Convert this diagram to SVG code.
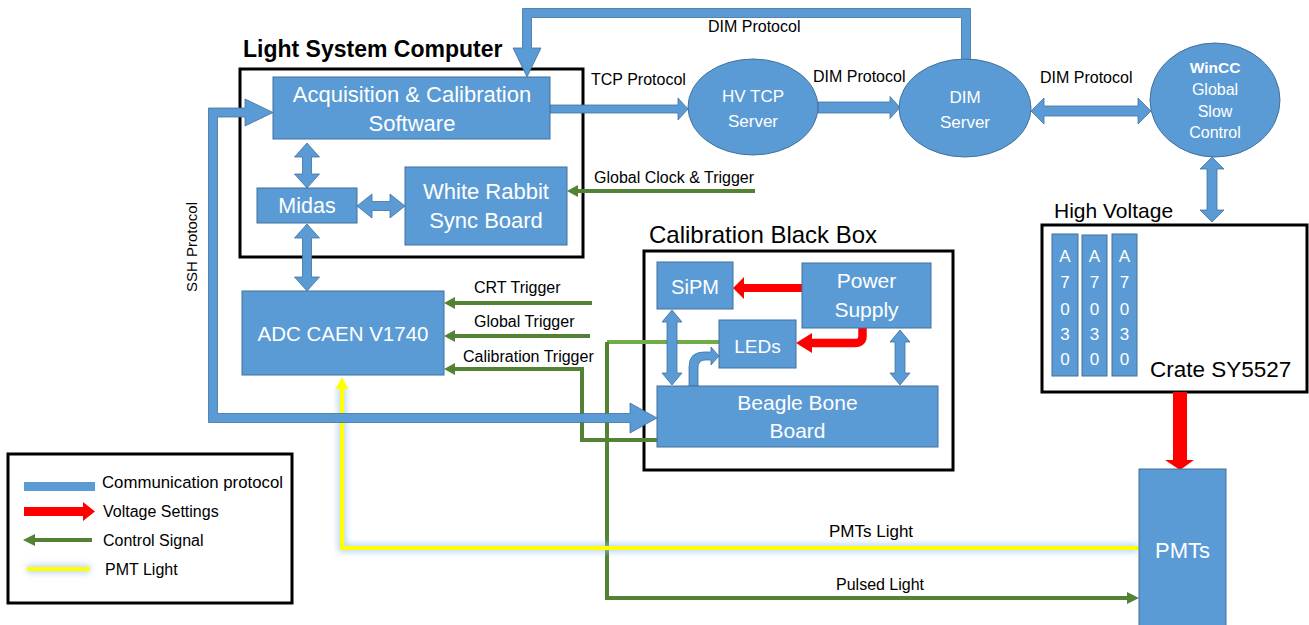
<svg xmlns="http://www.w3.org/2000/svg" width="1309" height="625" viewBox="0 0 1309 625">
<defs>
<style>
text{font-family:"Liberation Sans",Arial,sans-serif;}
.node{fill:#5B9BD5;stroke:#41719C;stroke-width:1;}
.blk{fill:#5B9BD5;stroke:#41719C;stroke-width:0.8;}
.frame{fill:none;stroke:#000;stroke-width:3;}
.wt{fill:#fff;text-anchor:middle;}
.lbl{fill:#000;font-size:16px;}
.g{fill:none;stroke:#548235;stroke-width:4;}
.gl{fill:none;stroke:#70AD47;stroke-width:4;}
.gh{fill:#548235;}
.red{fill:#FF0000;}
.glow{fill:none;stroke:#9DC3E6;stroke-opacity:0.7;stroke-width:8;filter:url(#blur);}
.yel{fill:none;stroke:#FFFF00;stroke-width:4;}
</style>
<filter id="blur" filterUnits="userSpaceOnUse" x="0" y="0" width="1309" height="625"><feGaussianBlur stdDeviation="3"/></filter>
</defs>
<rect width="1309" height="625" fill="#fff"/>

<!-- frames -->
<g id="frames">
<rect class="frame" x="240" y="69" width="343" height="188"/>
<text x="243" y="57" font-size="23" font-weight="bold">Light System Computer</text>
<rect class="frame" x="644" y="251" width="309" height="219"/>
<text x="649" y="243" font-size="24">Calibration Black Box</text>
<rect class="frame" x="1042" y="225" width="265" height="167"/>
<text x="1054" y="218" font-size="21">High Voltage</text>
<text x="1150" y="377" font-size="22.5">Crate SY5527</text>
</g>

<!-- connectors -->
<g id="connectors">
<path class="g" d="M592,303 L453,303"/><polygon class="gh" points="444,303 455,297 455,309"/>
<path class="g" d="M590,336 L453,336"/><polygon class="gh" points="444,336 455,330 455,342"/>
<path class="g" d="M657,440 L582,440 L582,369 L453,369"/><polygon class="gh" points="444,369 455,363 455,375"/>
<path class="g" d="M755,191 L576,191"/><polygon class="gh" points="567,191 578,185 578,197"/>
<path class="gl" d="M719,342 L607,342"/>
<path class="g" d="M607,342 L607,598 L1128,598"/><polygon class="gh" points="1139,598 1127,592 1127,604"/>
<path class="glow" d="M1138,548 L342,548 L342,386"/>
<path class="yel" d="M1138,548 L342,548 L342,386"/>
<polygon fill="#FFFF00" points="342,377 335.5,389 348.5,389"/>
<polygon class="blk" points="245,99 273,112.5 245,126 245,117 217.5,117 217.5,413.5 630,413.5 630,403 657,418 630,433 630,422.5 208.5,422.5 208.5,108 245,108"/>
<text transform="translate(197,247) rotate(-90)" text-anchor="middle" font-size="15">SSH Protocol</text>
<polygon class="blk" points="970.5,60 970.5,8.5 522.5,8.5 522.5,48 513,48 527,77 541,48 531.5,48 531.5,17.5 961.5,17.5 961.5,60"/>
<text class="lbl" x="708" y="32">DIM Protocol</text>
<polygon class="blk" points="550,105 678,105 678,98 688,109 678,120 678,113 550,113"/>
<text class="lbl" x="591" y="85">TCP Protocol</text>
<polygon class="blk" points="818,102 890,102 890,96.5 900,107.5 890,118.5 890,113 818,113"/>
<text class="lbl" x="813" y="82">DIM Protocol</text>
<polygon class="blk" points="1031,111 1044,98 1044,106 1138,106 1138,98 1151,111 1138,124 1138,116 1044,116 1044,124"/>
<text class="lbl" x="1040" y="83">DIM Protocol</text>
<polygon class="blk" points="1212,157 1224,169 1217,169 1217,210 1224,210 1212,222 1200,210 1207,210 1207,169 1200,169"/>
<polygon class="blk" points="307,143 319.5,157 311.5,157 311.5,174 319.5,174 307,188 294.5,174 302.5,174 302.5,157 294.5,157"/>
<polygon class="blk" points="357,206 372,194 372,201.5 390,201.5 390,194 405,206 390,218 390,210.5 372,210.5 372,218"/>
<polygon class="blk" points="307,224 319.5,238 311.5,238 311.5,277 319.5,277 307,291 294.5,277 302.5,277 302.5,238 294.5,238"/>
<polygon class="blk" points="672,310 682,322 677,322 677,373 682,373 672,385 662,373 667,373 667,322 662,322"/>
<polygon class="blk" points="900,330 910,342 905,342 905,373 910,373 900,385 890,373 895,373 895,342 890,342"/>
<path class="blk" d="M689,386 L689,367 Q689,352 704,352 L711,352 L711,347 L719,356 L711,365 L711,360 L705,360 Q698,360 698,368 L698,386 Z"/>
<polygon class="red" points="733,288 744,277 744,284 802,284 802,292 744,292 744,299"/>
<path d="M862.5,328 L862.5,336 Q862.5,343 855,343 L810,343" fill="none" stroke="#FF0000" stroke-width="8.5"/>
<polygon class="red" points="796,343 812,333 812,353"/>
<polygon class="red" points="1173,392 1187,392 1187,460 1194,460 1180,470 1165,460 1173,460"/>
<text class="lbl" x="594" y="183">Global Clock &amp; Trigger</text>
<text class="lbl" x="474" y="293">CRT Trigger</text>
<text class="lbl" x="474" y="327">Global Trigger</text>
<text class="lbl" x="463" y="362">Calibration Trigger</text>
<text x="829" y="537" font-size="17">PMTs Light</text>
<text class="lbl" x="836" y="590">Pulsed Light</text>
</g>

<!-- nodes -->
<g id="acq">
<rect class="node" x="273" y="77" width="277" height="62"/>
<text class="wt" x="412" y="102" font-size="22">Acquisition &amp; Calibration</text>
<text class="wt" x="412" y="131" font-size="22">Software</text>
</g>
<g id="midas">
<rect class="node" x="257" y="188" width="100" height="35"/>
<text class="wt" x="307" y="213" font-size="21.5">Midas</text>
</g>
<g id="whiterabbit">
<rect class="node" x="405" y="167" width="162" height="78"/>
<text class="wt" x="486" y="199" font-size="22">White Rabbit</text>
<text class="wt" x="486" y="228" font-size="22">Sync Board</text>
</g>
<g id="adc">
<rect class="node" x="242" y="291" width="202" height="84"/>
<text class="wt" x="343" y="341" font-size="20.5">ADC CAEN V1740</text>
</g>
<g id="hvtcp">
<ellipse class="node" cx="753" cy="107" rx="65" ry="48"/>
<text class="wt" x="753" y="102" font-size="17">HV TCP</text>
<text class="wt" x="753" y="127" font-size="17">Server</text>
</g>
<g id="dimserver">
<ellipse class="node" cx="965" cy="108" rx="66" ry="49"/>
<text class="wt" x="965" y="103" font-size="17">DIM</text>
<text class="wt" x="965" y="128" font-size="17">Server</text>
</g>
<g id="wincc">
<ellipse class="node" cx="1215" cy="100" rx="65" ry="57"/>
<text class="wt" x="1215" y="73" font-size="15.5" font-weight="bold">WinCC</text>
<text class="wt" x="1215" y="95" font-size="16">Global</text>
<text class="wt" x="1215" y="117" font-size="16">Slow</text>
<text class="wt" x="1215" y="138" font-size="16">Control</text>
</g>
<g id="a7030-1">
<rect class="node" x="1052" y="234" width="26" height="142"/>
<text class="wt" x="1065" font-size="17"><tspan x="1065" y="262">A</tspan><tspan x="1065" y="288">7</tspan><tspan x="1065" y="315">0</tspan><tspan x="1065" y="340">3</tspan><tspan x="1065" y="365">0</tspan></text>
</g>
<g id="a7030-2">
<rect class="node" x="1082" y="235" width="25" height="141"/>
<text class="wt" x="1094.5" font-size="17"><tspan x="1094.5" y="262">A</tspan><tspan x="1094.5" y="288">7</tspan><tspan x="1094.5" y="315">0</tspan><tspan x="1094.5" y="340">3</tspan><tspan x="1094.5" y="365">0</tspan></text>
</g>
<g id="a7030-3">
<rect class="node" x="1112" y="234" width="25" height="142"/>
<text class="wt" x="1124.5" font-size="17"><tspan x="1124.5" y="262">A</tspan><tspan x="1124.5" y="288">7</tspan><tspan x="1124.5" y="315">0</tspan><tspan x="1124.5" y="340">3</tspan><tspan x="1124.5" y="365">0</tspan></text>
</g>
<g id="sipm">
<rect class="node" x="657" y="262" width="76" height="47"/>
<text class="wt" x="695" y="294" font-size="20">SiPM</text>
</g>
<g id="power">
<rect class="node" x="802" y="263" width="129" height="65"/>
<text class="wt" x="866.5" y="288" font-size="21">Power</text>
<text class="wt" x="866.5" y="317" font-size="21">Supply</text>
</g>
<g id="leds">
<rect class="node" x="719" y="320" width="77" height="48"/>
<text class="wt" x="757.5" y="353" font-size="19">LEDs</text>
</g>
<g id="beagle">
<rect class="node" x="657" y="386" width="281" height="61"/>
<text class="wt" x="797.5" y="410" font-size="21">Beagle Bone</text>
<text class="wt" x="797.5" y="438" font-size="21">Board</text>
</g>
<g id="pmts">
<rect class="node" x="1139" y="469" width="87" height="170"/>
<text class="wt" x="1182.5" y="558" font-size="22">PMTs</text>
</g>

<!-- legend -->
<g id="legend">
<rect class="frame" x="8" y="454" width="284" height="149"/>
<rect x="24" y="482" width="71" height="9" fill="#5B9BD5"/>
<text x="102" y="488" font-size="16.8">Communication protocol</text>
<polygon class="red" points="24,507 83,507 83,502 95,511.5 83,521 83,516 24,516"/>
<text class="lbl" x="103" y="517">Voltage Settings</text>
<path class="g" d="M92,540 L33,540"/><polygon class="gh" points="23,540 35,534 35,546"/>
<text class="lbl" x="103" y="546">Control Signal</text>
<path class="glow" d="M27,569 L90,569"/>
<path class="yel" d="M27,569 L90,569"/>
<text class="lbl" x="105" y="575">PMT Light</text>
</g>
</svg>
